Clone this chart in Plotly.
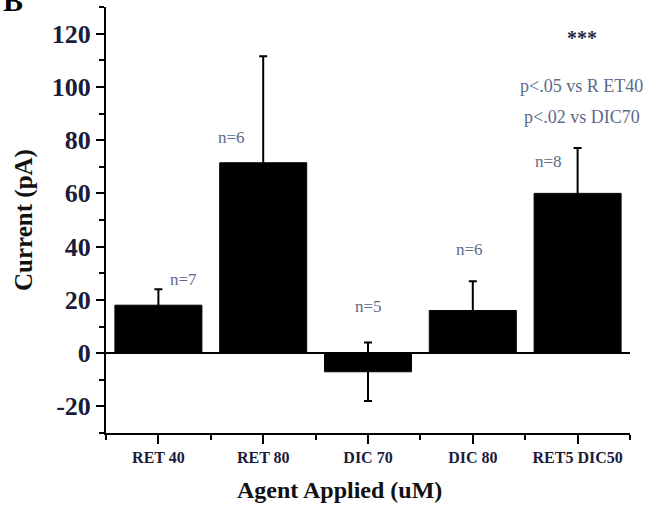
import plotly.graph_objects as go

# Agents applied and the mean evoked current (pA) with its error
agents = ["RET 40", "RET 80", "DIC 70", "DIC 80", "RET5 DIC50"]
current = [18, 71.5, -7, 16, 60]
error = [6, 40, 11, 11, 17]
n_labels = ["n=7", "n=6", "n=5", "n=6", "n=8"]

# where each n= label sits (data coordinates)
n_label_x = [0.24, 0.70, 2.0, 2.97, 3.72]
n_label_y = [27.5, 81, 17.5, 39, 72]

stats_lines = ["***", "p<.05 vs R ET40", "p<.02 vs DIC70"]

SERIF = "Liberation Serif, Times New Roman, serif"
TICK_COLOR = "#1b1b3c"
NOTE_COLOR = "#5c6a8c"

xpos = list(range(len(agents)))

fig = go.Figure(
    go.Bar(
        x=xpos,
        y=current,
        width=0.83,
        marker=dict(color="black", line=dict(color="black", width=1)),
        error_y=dict(type="data", array=error, symmetric=True,
                     color="black", thickness=2, width=4),
        showlegend=False,
    )
)

for xv, yv, txt in zip(n_label_x, n_label_y, n_labels):
    fig.add_annotation(x=xv, y=yv, text=txt, showarrow=False,
                       font=dict(family=SERIF, size=17, color=NOTE_COLOR))

# significance note above the combined-treatment bar
fig.add_annotation(x=4.04, y=118.5, text="<b>" + stats_lines[0] + "</b>", showarrow=False,
                   font=dict(family=SERIF, size=20, color="#2a2a40"))
fig.add_annotation(x=4.04, y=100.5, text=stats_lines[1], showarrow=False,
                   font=dict(family=SERIF, size=18, color=NOTE_COLOR))
fig.add_annotation(x=4.04, y=88.5, text=stats_lines[2], showarrow=False,
                   font=dict(family=SERIF, size=18, color=NOTE_COLOR))

# panel letter in the corner
fig.add_annotation(xref="paper", yref="paper", x=-0.2, y=1.0, xanchor="left",
                   yanchor="bottom", yshift=-12, text="<b>B</b>", showarrow=False,
                   font=dict(family=SERIF, size=30, color="black"))

# x axis title
fig.add_annotation(xref="paper", yref="paper", x=0.445, y=0, yanchor="middle",
                   yshift=-57, text="<b>Agent Applied (uM)</b>", showarrow=False,
                   font=dict(family=SERIF, size=24, color="#111111"))

fig.update_layout(
    width=645,
    height=512,
    autosize=False,
    margin=dict(l=106, r=15, t=7, b=79),
    paper_bgcolor="white",
    plot_bgcolor="white",
    xaxis=dict(
        range=[-0.5, 4.5],
        tickmode="array",
        tickvals=xpos,
        ticktext=["<b>%s</b>" % a for a in agents],
        tickfont=dict(family=SERIF, size=16, color=TICK_COLOR),
        ticks="outside",
        ticklen=9,
        tickwidth=2,
        tickcolor="black",
        showline=True,
        linecolor="black",
        linewidth=2,
        showgrid=False,
        zeroline=False,
        minor=dict(tickmode="array", tickvals=[-0.5, 0.5, 1.5, 2.5, 3.5, 4.5],
                   ticks="outside", ticklen=5, tickwidth=2, tickcolor="black"),
    ),
    yaxis=dict(
        range=[-30, 130],
        tickmode="array",
        tickvals=[-20, 0, 20, 40, 60, 80, 100, 120],
        ticktext=["<b>%d</b>" % v for v in [-20, 0, 20, 40, 60, 80, 100, 120]],
        tickfont=dict(family=SERIF, size=26, color=TICK_COLOR),
        ticks="outside",
        ticklen=8,
        tickwidth=2,
        tickcolor="black",
        showline=True,
        linecolor="black",
        linewidth=2,
        showgrid=False,
        zeroline=True,
        zerolinecolor="black",
        zerolinewidth=1.5,
        minor=dict(dtick=10, ticks="outside", ticklen=5, tickwidth=2, tickcolor="black"),
        title=dict(text="<b>Current (pA)</b>", standoff=12,
                   font=dict(family=SERIF, size=25, color="#111111")),
    ),
)

fig.write_html("out.html")
